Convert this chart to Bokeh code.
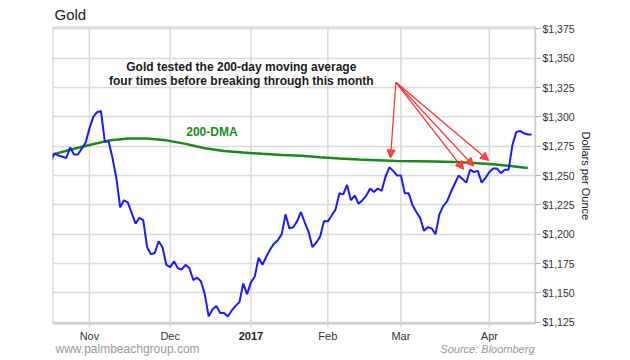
import numpy as np
from bokeh.plotting import figure
from bokeh.models import (Range1d, FixedTicker, NumeralTickFormatter, Label, Arrow, NormalHead,
                          BoxAnnotation, Title)
from bokeh.embed import file_html
from bokeh.resources import INLINE

# ---------------- data ----------------
HOLIDAYS = ["2016-11-24", "2016-12-26", "2017-01-02", "2017-01-16", "2017-02-20", "2017-04-14"]
FIRST_DAY, LAST_DAY = "2016-10-18", "2017-04-19"

# daily gold close (USD/oz), one value per trading day FIRST_DAY..LAST_DAY
GOLD = [1263, 1269, 1267, 1266, 1265, 1274, 1268, 1268, 1273, 1278,
        1290, 1300, 1304, 1305, 1279, 1279, 1265, 1248, 1223, 1229,
        1227, 1218, 1209, 1214, 1212, 1189, 1183, 1184, 1194, 1189,
        1174, 1172, 1177, 1171, 1170, 1174, 1171, 1161, 1163, 1160,
        1149, 1130, 1136, 1139, 1133, 1133, 1130, 1135, 1139, 1142,
        1158, 1149, 1159, 1164, 1180, 1174, 1181, 1187, 1192, 1195,
        1200, 1217, 1205, 1206, 1211, 1219, 1210, 1202, 1189, 1193,
        1198, 1211, 1211, 1216, 1221, 1235, 1234, 1242, 1229, 1233,
        1226, 1229, 1233, 1239, 1236, 1239, 1237, 1249, 1257, 1254,
        1250, 1250, 1235, 1235, 1225, 1219, 1214, 1203, 1206, 1205,
        1200, 1217, 1224, 1228, 1236, 1243, 1250, 1247, 1244, 1255,
        1253, 1254, 1244, 1248, 1253, 1256, 1256, 1252, 1255, 1255,
        1276, 1287, 1288, 1286, 1285, 1285]

# 200-day moving average
DMA_DATES = ["2016-10-18", "2016-10-25", "2016-11-01", "2016-11-08", "2016-11-15",
             "2016-11-22", "2016-11-30", "2016-12-07", "2016-12-14", "2016-12-21",
             "2016-12-29", "2017-01-06", "2017-01-13", "2017-01-23", "2017-01-30",
             "2017-02-06", "2017-02-13", "2017-02-21", "2017-02-28", "2017-03-07",
             "2017-03-14", "2017-03-21", "2017-03-28", "2017-04-04", "2017-04-11",
             "2017-04-18"]
DMA = [1267.5, 1272.0, 1276.0, 1279.8, 1281.6, 1281.6, 1280.0, 1277.0, 1273.3, 1271.0,
       1269.6, 1268.5, 1267.6, 1266.8, 1265.6, 1264.5, 1263.6, 1263.0, 1262.4, 1262.2,
       1262.0, 1261.6, 1260.8, 1259.6, 1258.0, 1256.5]

MONTH_TICKS = ["2016-11-01", "2016-12-01", "2017-01-01", "2017-02-01", "2017-03-01", "2017-04-01"]
MONTH_LABELS = ["Nov", "Dec", "2017", "Feb", "Mar", "Apr"]
PRICE_TICKS = [1125, 1150, 1175, 1200, 1225, 1250, 1275, 1300, 1325, 1350, 1375]

# annotation arrows (trading-day offset from 1 Nov 2016, price)
ARROW_FROM = (79.7, 1329.5)
ARROW_TO_X = [78.3, 97.3, 99.9, 103.8]
ARROW_TO_Y = [1265.0, 1255.3, 1258.1, 1262.9]

NOTE_1 = "Gold tested the 200-day moving average"
NOTE_2 = "four times before breaking through this month"

# ---------------- helpers ----------------
ORIGIN = np.datetime64("2016-11-01")


def tidx(dates):
    d = np.array(dates, dtype="datetime64[D]")
    return np.busday_count(ORIGIN, d, holidays=HOLIDAYS)


all_days = np.arange(np.datetime64(FIRST_DAY), np.datetime64(LAST_DAY) + 1)
trading_days = all_days[np.is_busday(all_days, holidays=HOLIDAYS)]
gold_x = tidx(trading_days)
n = min(len(gold_x), len(GOLD))
gold_x = gold_x[:n]
gold_y = GOLD[:n]
dma_x = tidx(DMA_DATES)
month_x = [int(v) for v in tidx(MONTH_TICKS)]

FONT = "Liberation Sans"
GRID = "#dadada"
EDGE = "#cdcdcd"

# plotting box (visible chart area) and the extended frame that also holds the footer
X0, X1 = -9.6, 116.0
Y0, Y1 = 1123.9, 1377.0
PX_PER_USD = 298.0 / (Y1 - Y0)
Y_FRAME0 = Y1 - 331.0 / PX_PER_USD
TICK_LEN = 4.0 / PX_PER_USD
LABEL_Y = Y0 - 12.5 / PX_PER_USD
FOOT_Y = Y0 - 25.5 / PX_PER_USD

p = figure(width=630, height=360, output_backend="svg", toolbar_location=None,
           x_range=Range1d(X0, X1), y_range=Range1d(Y_FRAME0, Y1),
           x_axis_location=None, y_axis_location="right",
           min_border_left=52, min_border_right=95, min_border_top=25, min_border_bottom=4)
p.background_fill_color = "white"
p.border_fill_color = "white"
p.outline_line_color = None

# title
p.title.text = "Gold"
p.title.text_font = FONT
p.title.text_font_size = "15px"
p.title.text_font_style = "normal"
p.title.text_color = "#222222"
p.title.offset = 2
p.title.standoff = 7

# grid: horizontal via the y grid, vertical month lines (with small tick stubs) drawn bounded
p.ygrid.ticker = FixedTicker(ticks=PRICE_TICKS)
p.ygrid.grid_line_color = GRID
p.ygrid.grid_line_width = 1.5
p.xgrid.visible = False
p.segment(x0=month_x, x1=month_x, y0=[Y0 - TICK_LEN] * len(month_x), y1=[Y1] * len(month_x),
          line_color=GRID, line_width=1.5)

# chart box edges
p.add_layout(BoxAnnotation(left=X0, right=X1, bottom=Y0, top=Y1, fill_alpha=0,
                           line_color=EDGE, line_alpha=1, line_width=2, level="underlay"))

# right y axis
ya = p.yaxis[0]
ya.ticker = FixedTicker(ticks=PRICE_TICKS)
ya.bounds = (Y0, Y1)
ya.formatter = NumeralTickFormatter(format="$0,0")
ya.major_label_text_font = FONT
ya.major_label_text_font_size = "10.5px"
ya.major_label_text_color = "#333333"
ya.major_label_standoff = 2
ya.major_tick_out = 5
ya.major_tick_in = 0
ya.major_tick_line_color = "#b0b0b0"
ya.minor_tick_line_color = None
ya.axis_line_color = EDGE
ya.axis_line_width = 1.5

# axis title, placed beside the tick labels and positioned along the chart box
p.add_layout(Title(text="Dollars per Ounce", align="left", offset=105, standoff=5,
                   text_font=FONT, text_font_size="11px", text_font_style="normal",
                   text_color="#222222"), "right")

# series
p.line(dma_x, DMA, line_color="#178a17", line_width=2.5)
p.line(gold_x, gold_y, line_color="#1a1aff", line_width=2)

# arrows
for tx, ty in zip(ARROW_TO_X, ARROW_TO_Y):
    p.add_layout(Arrow(x_start=ARROW_FROM[0], y_start=ARROW_FROM[1], x_end=tx, y_end=ty,
                       line_color="#ff2a2a", line_width=1.2,
                       end=NormalHead(size=8, fill_color="#ff4545", line_color="#ff2a2a",
                                      line_width=1)))

# texts
note_x = 39.5
p.add_layout(Label(x=note_x, y=1342.1, text=NOTE_1, text_align="center", text_baseline="middle",
                   text_font=FONT, text_font_size="12px", text_font_style="bold",
                   text_color="#1a1a1a"))
p.add_layout(Label(x=note_x, y=1330.2, text=NOTE_2, text_align="center", text_baseline="middle",
                   text_font=FONT, text_font_size="12px", text_font_style="bold",
                   text_color="#1a1a1a"))
p.add_layout(Label(x=31.85, y=1287.2, text="200-DMA", text_align="center", text_baseline="middle",
                   text_font=FONT, text_font_size="12px", text_font_style="bold",
                   text_color="#1c8c1c"))

# month tick labels (2017 in bold)
for mx, ml in zip(month_x, MONTH_LABELS):
    p.add_layout(Label(x=mx, y=LABEL_Y, text=ml, text_align="center", text_baseline="middle",
                       text_font=FONT, text_font_size="11px",
                       text_font_style="bold" if ml == "2017" else "normal",
                       text_color="#222222" if ml == "2017" else "#333333"))

# footer
p.add_layout(Label(x=X0, x_offset=3, y=FOOT_Y, text="www.palmbeachgroup.com", text_baseline="middle",
                   text_font=FONT, text_font_size="12px", text_color="#9a9a9a"))
p.add_layout(Label(x=X1, x_offset=-1, y=FOOT_Y, text="Source: Bloomberg", text_align="right",
                   text_baseline="middle", text_font=FONT, text_font_size="11px",
                   text_font_style="italic", text_color="#9a9a9a"))

open("out.html", "w").write(file_html(p, INLINE))
